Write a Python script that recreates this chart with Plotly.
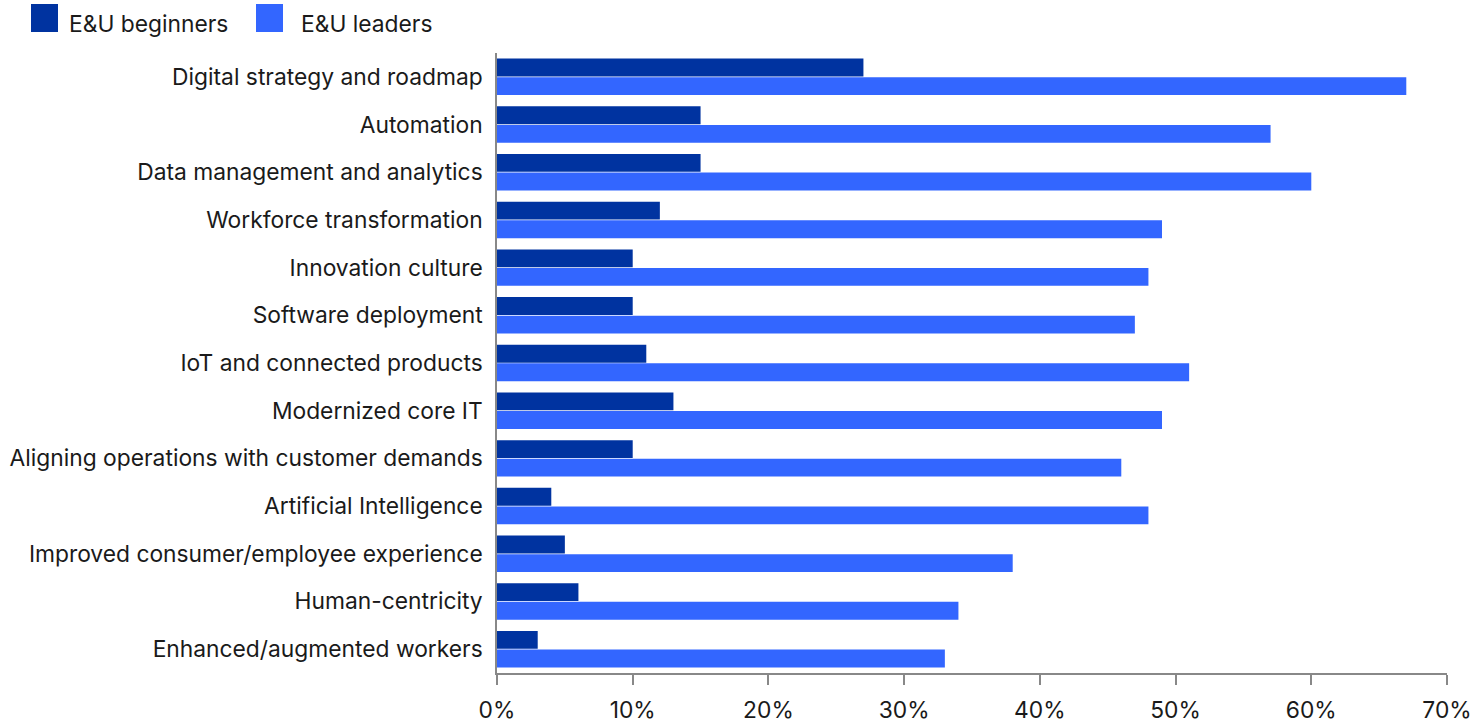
import plotly.graph_objects as go

categories = [
    "Digital strategy and roadmap",
    "Automation",
    "Data management and analytics",
    "Workforce transformation",
    "Innovation culture",
    "Software deployment",
    "IoT and connected products",
    "Modernized core IT",
    "Aligning operations with customer demands",
    "Artificial Intelligence",
    "Improved consumer/employee experience",
    "Human-centricity",
    "Enhanced/augmented workers",
]
beginners = [27, 15, 15, 12, 10, 10, 11, 13, 10, 4, 5, 6, 3]
leaders = [67, 57, 60, 49, 48, 47, 51, 49, 46, 48, 38, 34, 33]
tick_vals = [0, 10, 20, 30, 40, 50, 60, 70]
tick_text = ["0%", "10%", "20%", "30%", "40%", "50%", "60%", "70%"]

DARK = "#0033A0"
LIGHT = "#3366FF"
TEXT = "#1a1a1a"
FONT = "Inter"
FS = 22.8
W, H = 1478, 724
ML, MR, MT, MB = 497, 31, 53, 51

fig = go.Figure()
fig.add_trace(go.Bar(y=categories, x=beginners, orientation="h", name="E&U beginners",
                     marker=dict(color=DARK, line=dict(width=0))))
fig.add_trace(go.Bar(y=categories, x=leaders, orientation="h", name="E&U leaders",
                     marker=dict(color=LIGHT, line=dict(width=0))))

fig.update_layout(
    width=W, height=H,
    margin=dict(l=ML, r=MR, t=MT, b=MB, autoexpand=False),
    barmode="group", bargap=0.22, bargroupgap=0.04,
    plot_bgcolor="white", paper_bgcolor="white",
    showlegend=False,
    font=dict(family=FONT, size=FS, color=TEXT),
)
fig.update_xaxes(
    range=[0, 70], tickvals=tick_vals, ticktext=tick_text,
    showgrid=False, zeroline=False, automargin=False,
    showline=True, linecolor="#888888", linewidth=1.5,
    ticks="outside", ticklen=10, tickcolor="#888888", tickwidth=1.5,
    ticklabelstandoff=6,
    tickfont=dict(family=FONT, size=FS, color=TEXT),
)
fig.update_yaxes(
    autorange="reversed", showgrid=False, zeroline=False, automargin=False,
    showline=True, linecolor="#888888", linewidth=1.5,
    ticks="", ticklabelstandoff=8,
    tickfont=dict(family=FONT, size=FS, color=TEXT),
)

# Legend drawn as swatches with labels at the top-left of the canvas
def px_x(v):
    return (v - ML) / (W - ML - MR)

def px_y(v):
    return 1 - (v - MT) / (H - MT - MB)

legend_items = [("E&U beginners", DARK, 31, 67), ("E&U leaders", LIGHT, 256, 299)]
for label, color, sx, tx in legend_items:
    fig.add_shape(type="rect", xref="paper", yref="paper",
                  x0=px_x(sx), x1=px_x(sx + 27), y0=px_y(32), y1=px_y(4),
                  fillcolor=color, line=dict(width=0))
    fig.add_annotation(text=label, xref="paper", yref="paper",
                       x=px_x(tx), y=px_y(23), xanchor="left", yanchor="middle",
                       showarrow=False, font=dict(family=FONT, size=FS, color=TEXT))

fig.write_html("out.html")
